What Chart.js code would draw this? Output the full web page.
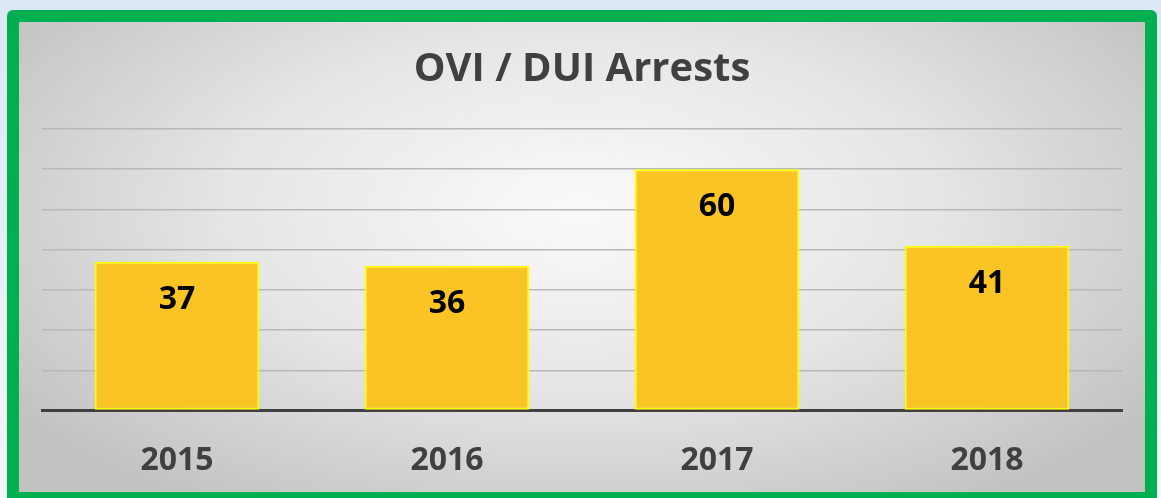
<!DOCTYPE html>
<html>
<head>
<meta charset="utf-8">
<script src="https://cdn.jsdelivr.net/npm/chart.js@4"></script>
<style>
  html, body { margin: 0; padding: 0; width: 1161px; height: 498px; overflow: hidden;
    background: linear-gradient(180deg, #dbe7f4 0%, #e6eff8 50%, #f3f7fb 100%); }
  #frame { position: absolute; left: 7px; top: 10px; width: 1126px; height: 470px;
    border: 12px solid #00b050; border-radius: 6px 6px 0 0;
    background: radial-gradient(ellipse 62% 75% at 50% 40%, #fafafa 0%, #e6e6e6 50%, #c2c2c2 100%); }
  #wrap { position: absolute; left: 0; top: 0; width: 1126px; height: 489px; }
</style>
</head>
<body>
<div id="frame"><div id="wrap"><canvas id="c"></canvas></div></div>
<script>
const categories = ['2015', '2016', '2017', '2018'];
const arrests = [37, 36, 60, 41];
const chartTitle = 'OVI / DUI Arrests';

const FONT = '"Open Sans", Lato, sans-serif';

const barLabels = {
  id: 'barLabels',
  afterDatasetsDraw(chart) {
    const ctx = chart.ctx;
    const meta = chart.getDatasetMeta(0);
    ctx.save();
    ctx.font = 'bold 32px ' + FONT;
    ctx.fillStyle = '#000000';
    ctx.textAlign = 'center';
    ctx.textBaseline = 'middle';
    meta.data.forEach((bar, i) => {
      ctx.fillText(String(arrests[i]), bar.x, bar.y + 38);
    });
    ctx.restore();
  }
};

new Chart(document.getElementById('c'), {
  type: 'bar',
  data: {
    labels: categories,
    datasets: [{
      data: arrests,
      backgroundColor: '#f9c424',
      borderColor: '#ffff00',
      borderWidth: 2,
      borderSkipped: false,
      categoryPercentage: 1,
      barPercentage: 0.61
    }]
  },
  options: {
    responsive: true,
    maintainAspectRatio: false,
    animation: false,
    layout: { padding: { left: 23, right: 23, top: 0, bottom: 0 } },
    plugins: {
      legend: { display: false },
      tooltip: { enabled: false },
      title: {
        display: true,
        text: chartTitle,
        color: '#404040',
        font: { family: FONT, size: 40, weight: 'bold' },
        padding: { top: 24, bottom: 35 }
      }
    },
    scales: {
      x: {
        grid: { display: false, drawTicks: false },
        border: { display: true, color: '#404040', width: 3 },
        ticks: { color: '#404040', padding: 31, font: { family: FONT, size: 32, weight: 'bold' } }
      },
      y: {
        min: 0, max: 70,
        ticks: { display: false, stepSize: 10 },
        grid: { color: '#b8b8b8', lineWidth: 1.5, drawTicks: false },
        border: { display: false }
      }
    }
  },
  plugins: [barLabels]
});
</script>
</body>
</html>
